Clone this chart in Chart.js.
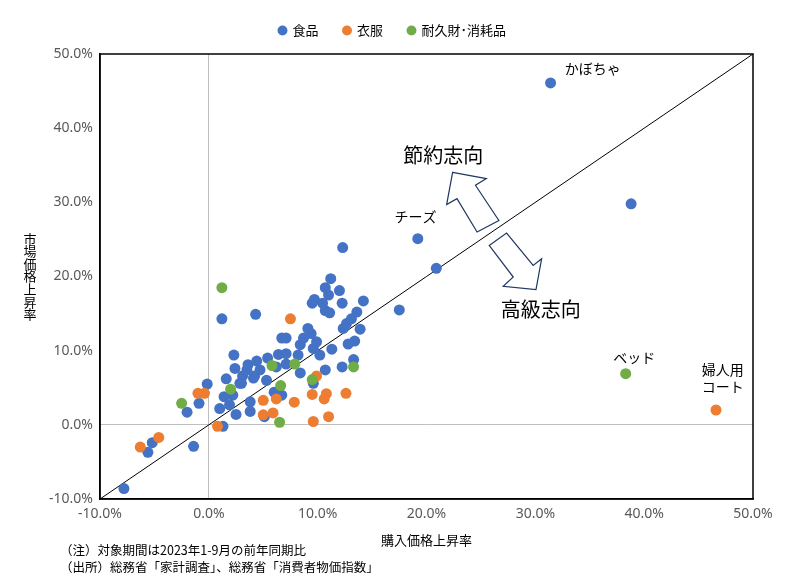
<!DOCTYPE html>
<html>
<head>
<meta charset="utf-8">
<script src="https://cdn.jsdelivr.net/npm/chart.js@4.4.1/dist/chart.umd.min.js"></script>
<style>
  html, body { margin: 0; padding: 0; background: #fff; }
</style>
</head>
<body>
<canvas id="chart" width="785" height="582"></canvas>
<script>
// [購入価格上昇率, 市場価格上昇率] (%)
const food = [
  [-7.8, -8.6], [-5.6, -3.7], [-5.2, -2.4], [-1.4, -2.9], [-2.0, 1.7], [-0.9, 2.9],
  [-0.15, 5.5], [1.3, -0.2], [1.0, 2.2], [1.9, 2.7], [2.5, 1.4], [1.4, 3.8],
  [2.2, 4.0], [3.8, 3.1], [3.8, 1.8], [5.1, 1.1], [6.7, 4.0], [6.0, 4.4],
  [1.6, 6.2], [2.85, 5.6], [3.1, 6.6], [3.5, 7.4], [2.4, 7.6], [2.3, 9.4],
  [3.6, 8.1], [4.4, 8.6], [4.2, 6.6], [4.7, 7.4], [5.3, 6.0], [5.4, 9.0],
  [6.4, 9.5], [6.2, 7.8], [7.1, 8.2], [7.1, 9.6], [6.7, 11.7], [7.1, 11.7],
  [8.4, 7.0], [8.2, 9.4], [8.4, 10.8], [8.7, 11.7], [9.1, 13.0], [9.4, 12.3],
  [9.6, 10.3], [9.9, 11.2], [10.2, 9.4], [11.3, 10.2], [10.7, 7.4], [9.6, 5.6],
  [12.25, 7.8], [13.3, 8.8], [12.8, 10.9], [13.4, 11.3], [13.9, 12.9], [12.35, 13.0],
  [12.65, 13.65], [13.1, 14.3], [13.6, 15.2], [10.7, 15.4], [11.1, 15.1], [9.5, 16.4],
  [9.7, 16.9], [10.45, 16.4], [12.25, 16.4], [14.2, 16.7], [11.0, 17.5], [10.7, 18.5],
  [12.0, 18.1], [11.2, 19.7], [1.2, 14.3], [4.3, 14.9], [17.5, 15.5], [19.2, 25.1],
  [20.9, 21.1], [12.3, 23.9], [31.4, 46.1], [38.8, 29.8], [4.1, 6.3], [3.0, 5.6]
];
const clothing = [
  [-6.3, -3.0], [-4.6, -1.7], [-1.0, 4.25], [-0.4, 4.25], [0.8, -0.2], [5.0, 3.3],
  [6.2, 3.5], [5.0, 1.35], [5.9, 1.6], [7.85, 3.05], [7.5, 14.3], [9.9, 6.6],
  [9.5, 4.1], [10.8, 4.2], [10.6, 3.5], [12.6, 4.25], [11.0, 1.1], [9.6, 0.45],
  [46.6, 2.0]
];
const durables = [
  [1.2, 18.5], [-2.5, 2.9], [2.0, 4.8], [5.8, 8.0], [7.9, 8.2], [6.6, 5.3],
  [6.5, 0.35], [9.5, 6.1], [13.3, 7.8], [38.3, 6.9]
];
const diagonal = [[-10, -10], [50, 50]];
const seriesNames = ['食品', '衣服', '耐久財･消耗品'];
const seriesColors = ['#4472C4', '#ED7D31', '#70AD47'];
const axisMin = -10, axisMax = 50, axisStep = 10;

// annotation texts, placed in data units
const pointLabels = [
  { text: 'かぼちゃ', x: 32.7, y: 48.0, align: 'left' },
  { text: 'チーズ', x: 19.0, y: 28.0, align: 'center' },
  { text: 'ベッド', x: 39.1, y: 9.1, align: 'center' },
  { text: '婦人用', x: 45.3, y: 7.5, align: 'left' },
  { text: 'コート', x: 45.3, y: 5.1, align: 'left' }
];
const bigLabels = [
  { text: '節約志向', x: 21.55, y: 36.3 },
  { text: '高級志向', x: 30.5, y: 15.6 }
];
const arrowUp = [[22.4, 34.05], [25.5, 33.2], [24.5, 32.3], [26.65, 27.55], [24.65, 26.0], [22.8, 30.5], [21.85, 29.7]];
const arrowDown = [[25.76, 24.19], [27.36, 25.85], [29.8, 21.5], [30.58, 22.4], [30.06, 18.24], [27.05, 18.68], [27.97, 19.93]];

const yTitle = '市場価格上昇率';
const xTitle = '購入価格上昇率';
const notes = ['（注）対象期間は2023年1-9月の前年同期比', '（出所）総務省「家計調査」、総務省「消費者物価指数」'];

const jp = '"Noto Sans CJK JP", "Noto Sans", sans-serif';
const toXY = arr => arr.map(p => ({ x: p[0], y: p[1] }));

const extras = {
  id: 'extras',
  beforeInit(chart) {
    const legend = chart.legend;
    if (legend) {
      const fit = legend.fit;
      legend.fit = function () { fit.call(this); this.height = 55; };
    }
  },
  afterDatasetsDraw(chart) {
    const { ctx, chartArea: a, scales: { x, y } } = chart;
    ctx.save();
    // frame
    ctx.strokeStyle = '#000';
    ctx.lineWidth = 1.5;
    ctx.strokeRect(a.left, a.top, a.right - a.left, a.bottom - a.top);
    // arrows
    ctx.strokeStyle = '#203864';
    ctx.lineWidth = 1.2;
    ctx.fillStyle = '#fff';
    [arrowUp, arrowDown].forEach(poly => {
      ctx.beginPath();
      poly.forEach((p, i) => {
        const px = x.getPixelForValue(p[0]), py = y.getPixelForValue(p[1]);
        if (i === 0) ctx.moveTo(px, py); else ctx.lineTo(px, py);
      });
      ctx.closePath();
      ctx.fill();
      ctx.stroke();
    });
    // labels
    ctx.fillStyle = '#000';
    ctx.textBaseline = 'middle';
    ctx.font = '14px ' + jp;
    pointLabels.forEach(l => {
      ctx.textAlign = l.align;
      ctx.fillText(l.text, x.getPixelForValue(l.x), y.getPixelForValue(l.y));
    });
    ctx.font = '20px ' + jp;
    ctx.textAlign = 'center';
    bigLabels.forEach(l => ctx.fillText(l.text, x.getPixelForValue(l.x), y.getPixelForValue(l.y)));
    // axis titles
    ctx.font = '13px ' + jp;
    ctx.fillText(xTitle, (a.left + a.right) / 2, 540);
    const mid = (a.top + a.bottom) / 2, step = 12.6;
    [...yTitle].forEach((ch, i) => {
      ctx.fillText(ch, 30, mid + (i - (yTitle.length - 1) / 2) * step);
    });
    // notes
    ctx.font = '12.5px ' + jp;
    ctx.textAlign = 'left';
    ctx.fillText(notes[0], 60, 550);
    ctx.fillText(notes[1], 60, 567);
    ctx.restore();
  }
};

const axisCommon = {
  type: 'linear',
  min: axisMin,
  max: axisMax,
  ticks: {
    stepSize: axisStep,
    callback: v => v.toFixed(1) + '%',
    color: '#595959',
    font: { size: 14, family: '"Noto Sans", sans-serif' }
  },
  grid: {
    color: c => (c.tick && c.tick.value === 0 ? '#bfbfbf' : 'rgba(0,0,0,0)'),
    drawTicks: false,
    lineWidth: 1
  },
  border: { color: '#000', width: 1.5 }
};

new Chart(document.getElementById('chart'), {
  type: 'scatter',
  data: {
    datasets: [
      { label: seriesNames[0], data: toXY(food), backgroundColor: seriesColors[0], borderWidth: 0, pointRadius: 5.5, order: 3 },
      { label: seriesNames[1], data: toXY(clothing), backgroundColor: seriesColors[1], borderWidth: 0, pointRadius: 5.5, order: 2 },
      { label: seriesNames[2], data: toXY(durables), backgroundColor: seriesColors[2], borderWidth: 0, pointRadius: 5.5, order: 1 },
      { label: 'diag', data: toXY(diagonal), showLine: true, borderColor: '#000', borderWidth: 1, pointRadius: 0, order: 4 }
    ]
  },
  options: {
    responsive: false,
    animation: false,
    layout: { padding: { top: -1, right: 0, bottom: 0, left: 0 } },
    plugins: {
      legend: {
        position: 'top',
        labels: {
          usePointStyle: true,
          pointStyle: 'circle',
          boxWidth: 7,
          boxHeight: 7,
          padding: 25,
          color: '#000',
          font: { size: 13, family: jp },
          filter: item => item.datasetIndex < 3,
          sort: (a, b) => a.datasetIndex - b.datasetIndex
        }
      },
      tooltip: { enabled: false }
    },
    scales: {
      x: Object.assign({}, axisCommon, {
        ticks: Object.assign({}, axisCommon.ticks, { padding: 7 }),
        afterFit: s => { s.height = 83; }
      }),
      y: Object.assign({}, axisCommon, {
        ticks: Object.assign({}, axisCommon.ticks, { padding: 7 }),
        afterFit: s => { s.width = 100; }
      }),
      // empty right-hand margin axis so the legend centres on the full canvas
      yRight: {
        type: 'linear',
        position: 'right',
        min: axisMin,
        max: axisMax,
        grid: { display: false },
        ticks: { display: false },
        border: { display: false },
        afterFit: s => { s.width = 32; }
      }
    }
  },
  plugins: [extras]
});
</script>
</body>
</html>
